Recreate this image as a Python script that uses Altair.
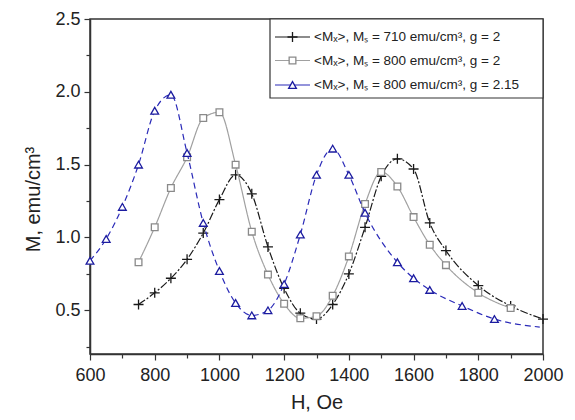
import altair as alt
import pandas as pd

# ---- data ----
H_A = [750, 800, 850, 900, 950, 1000, 1050, 1100, 1150, 1200, 1250, 1300, 1350, 1400,
       1450, 1500, 1550, 1600, 1650, 1700, 1800, 1900, 2000]
M_A = [0.54, 0.62, 0.72, 0.85, 1.03, 1.26, 1.43, 1.30, 0.935, 0.65, 0.48, 0.44, 0.54, 0.75,
       1.07, 1.42, 1.54, 1.47, 1.10, 0.91, 0.67, 0.53, 0.44]

H_B = [750, 800, 850, 900, 950, 1000, 1050, 1100, 1150, 1200, 1250, 1300, 1350, 1400,
       1450, 1500, 1550, 1600, 1650, 1700, 1800, 1900]
M_B = [0.83, 1.07, 1.34, 1.55, 1.82, 1.86, 1.50, 1.04, 0.745, 0.545, 0.445, 0.46, 0.60, 0.87,
       1.23, 1.45, 1.35, 1.14, 0.95, 0.81, 0.62, 0.515]

H_C = [600, 650, 700, 750, 800, 850, 900, 950, 1000, 1050, 1100, 1150, 1200, 1250, 1300,
       1350, 1400, 1450, 1550, 1600, 1650, 1750, 1850]
M_C = [0.84, 0.99, 1.21, 1.50, 1.87, 1.98, 1.58, 1.10, 0.77, 0.55, 0.465, 0.50, 0.68, 1.02, 1.43,
       1.61, 1.43, 1.17, 0.83, 0.72, 0.64, 0.53, 0.44]
# curve continues past the last marker
H_C_TAIL = [1990]
M_C_TAIL = [0.385]

LABELS = [
    "<M\u2093>, M\u209b = 710 emu/cm\u00b3, g = 2",
    "<M\u2093>, M\u209b = 800 emu/cm\u00b3, g = 2",
    "<M\u2093>, M\u209b = 800 emu/cm\u00b3, g = 2.15",
]

X_TICKS = list(range(600, 2001, 100))
Y_TICKS = [0.25 * i for i in range(1, 11)]

FONT = "Liberation Sans"
PLUS = "M-1,0L1,0M0,-1L0,1"

xscale = alt.Scale(domain=[600, 2000], nice=False)
yscale = alt.Scale(domain=[0.2, 2.5], nice=False)

common_axis = dict(
    grid=False, labelFont=FONT, titleFont=FONT,
    labelColor="#222", titleColor="#222", domainColor="#333", tickColor="#333",
    domainWidth=1.5, tickWidth=1.2,
    titleFontWeight="normal", labelFlush=False, labelOverlap=False,
)

xaxis = alt.Axis(
    values=X_TICKS, format="d", title="H, Oe",
    labelExpr="datum.value % 200 == 0 ? datum.label : ''",
    tickSize={"condition": {"test": "datum.value % 200 == 0", "value": 6}, "value": 4},
    labelPadding=6, titlePadding=8, labelFontSize=18, titleFontSize=20,
    **common_axis,
)
yaxis = alt.Axis(
    values=Y_TICKS, format=".1f", title="M, emu/cm\u00b3",
    labelExpr="round(datum.value * 4) % 2 == 0 ? datum.label : ''",
    tickSize={"condition": {"test": "round(datum.value * 4) % 2 == 0", "value": 6}, "value": 4},
    labelPadding=4, titlePadding=11, labelFontSize=18, titleFontSize=20, titleY=180,
    **common_axis,
)

styles = [
    dict(color="#1a1a1a", dash=[8, 2, 2, 2], shape=PLUS, size=100, fill=None, mcolor="#1a1a1a"),
    dict(color="#a0a0a0", dash=[1, 0], shape="square", size=45, fill="white", mcolor="#8a8a8a"),
    dict(color="#2a2ab8", dash=[6, 4], shape="triangle-up", size=60, fill="white", mcolor="#1c1ca0"),
]

series = [
    (H_A, M_A, H_A, M_A),
    (H_B, M_B, H_B, M_B),
    (H_C + H_C_TAIL, M_C + M_C_TAIL, H_C, M_C),
]


def marker_kw(st):
    kw = dict(shape=st["shape"], size=st["size"], stroke=st["mcolor"], strokeWidth=1.3, opacity=1)
    if st["fill"]:
        kw.update(filled=True, fill=st["fill"])
    else:
        kw.update(filled=False)
    return kw


layers = []
for (lh, lm, ph, pm), st in zip(series, styles):
    ldf = pd.DataFrame({"H": lh, "M": lm})
    pdf = pd.DataFrame({"H": ph, "M": pm})
    enc = dict(
        x=alt.X("H:Q", scale=xscale, axis=xaxis),
        y=alt.Y("M:Q", scale=yscale, axis=yaxis),
    )
    line = alt.Chart(ldf).mark_line(
        interpolate="monotone", color=st["color"], strokeWidth=1.2, strokeDash=st["dash"]
    ).encode(**enc)
    pts = alt.Chart(pdf).mark_point(**marker_kw(st)).encode(**enc)
    layers += [line, pts]

# ---- legend (drawn inside the plot, top-right) ----
box = alt.Chart(pd.DataFrame({"a": [0]})).mark_rect(
    fill="white", stroke="#333", strokeWidth=1.2
).encode(x=alt.value(180), x2=alt.value(453), y=alt.value(0), y2=alt.value(79))
layers.append(box)

row_y = [18, 41.5, 66]
for lab, ly, st in zip(LABELS, row_y, styles):
    d = pd.DataFrame({"label": [lab]})
    rule = alt.Chart(d).mark_rule(color=st["color"], strokeWidth=1.2).encode(
        x=alt.value(185), x2=alt.value(220), y=alt.value(ly))
    mk = alt.Chart(d).mark_point(**marker_kw(st)).encode(x=alt.value(202.5), y=alt.value(ly))
    txt = alt.Chart(d).mark_text(
        align="left", baseline="middle", fontSize=13.5, font=FONT, color="#222"
    ).encode(x=alt.value(224), y=alt.value(ly), text="label:N")
    layers += [rule, mk, txt]

chart = alt.layer(*layers).properties(
    width=453, height=335,
    background="white",
    autosize=alt.AutoSizeParams(type="none"),
    padding={"left": 82, "top": 11, "right": 24, "bottom": 60},
).configure_view(stroke="#333", strokeWidth=1.5)

chart.save("out.html", embed_options={"renderer": "svg", "actions": False})
